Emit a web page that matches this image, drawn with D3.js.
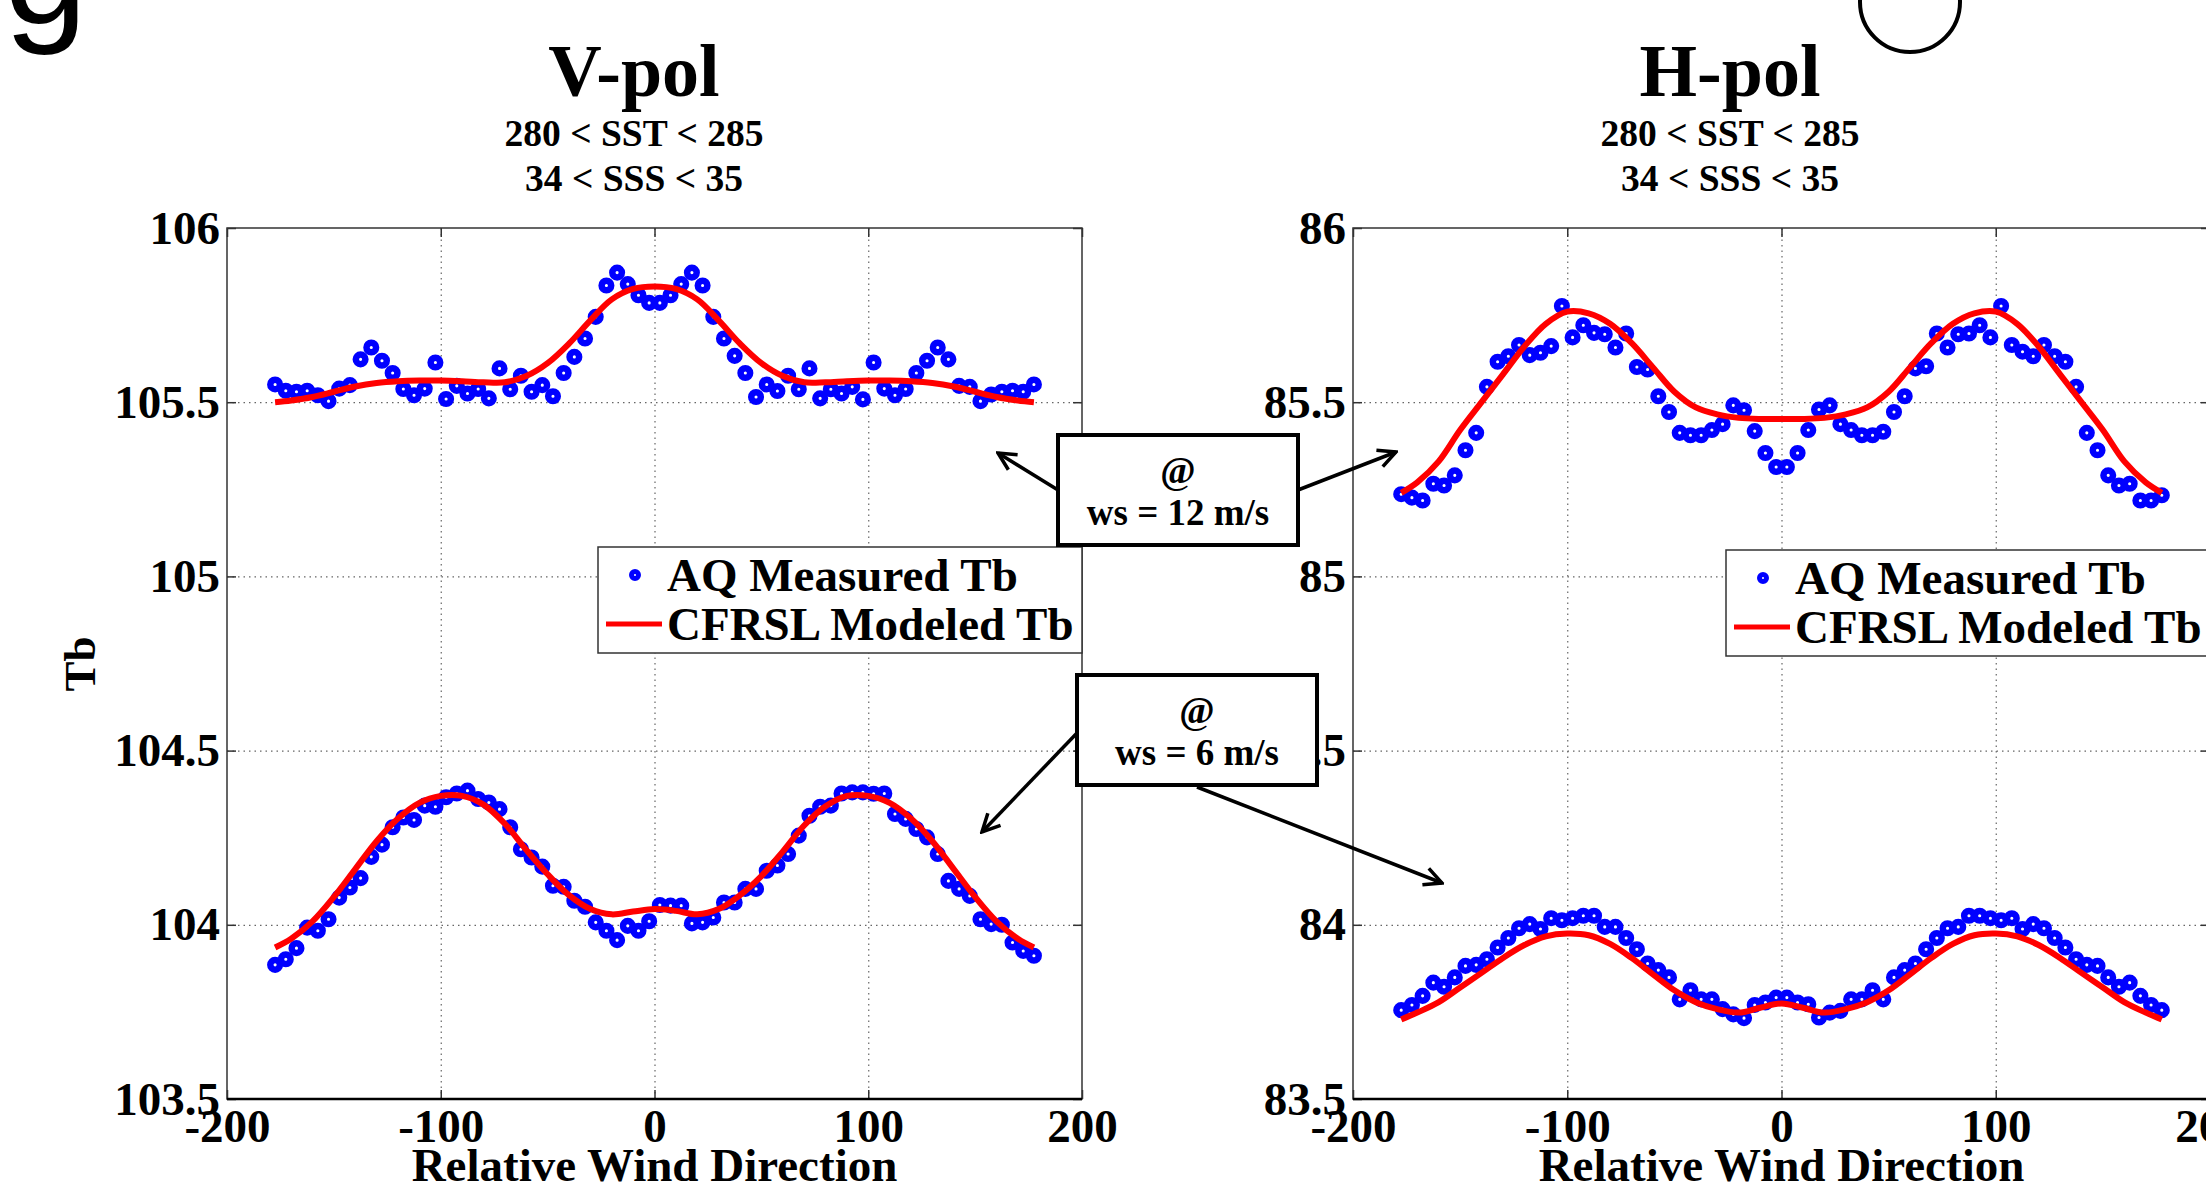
<!DOCTYPE html>
<html>
<head>
<meta charset="utf-8">
<script src="https://cdn.jsdelivr.net/npm/d3@7"></script>
<style>
  body { margin: 0; background: #fff; }
  svg { display: block; }
</style>
</head>
<body>
<svg id="fig" width="2206" height="1191"></svg>
<script>
// Tb vs relative wind direction, 280 < SST < 285, 34 < SSS < 35

let directions = [
  -177.5, -172.5, -167.5, -162.5, -157.5, -152.5, -147.5, -142.5, -137.5, -132.5,
  -127.5, -122.5, -117.5, -112.5, -107.5, -102.5, -97.5, -92.5, -87.5, -82.5,
  -77.5, -72.5, -67.5, -62.5, -57.5, -52.5, -47.5, -42.5, -37.5, -32.5,
  -27.5, -22.5, -17.5, -12.5, -7.5, -2.5, 2.5, 7.5, 12.5, 17.5,
  22.5, 27.5, 32.5, 37.5, 42.5, 47.5, 52.5, 57.5, 62.5, 67.5,
  72.5, 77.5, 82.5, 87.5, 92.5, 97.5, 102.5, 107.5, 112.5, 117.5,
  122.5, 127.5, 132.5, 137.5, 142.5, 147.5, 152.5, 157.5, 162.5, 167.5,
  172.5, 177.5
]

let modelDirections = [
  -177.5, -170, -160, -150, -140, -130, -120, -110, -100, -90, -80, -70, -60,
  -50, -40, -30, -20, -10, 0, 10, 20, 30, 40, 50, 60, 70, 80, 90, 100, 110,
  120, 130, 140, 150, 160, 170, 177.5
]

// V-pol, ws = 12 m/s
let vpol12Measured = [
  105.551, 105.533, 105.530, 105.533, 105.520, 105.503, 105.539, 105.549, 105.623, 105.657,
  105.619, 105.584, 105.538, 105.520, 105.539, 105.614, 105.509, 105.547, 105.525, 105.538,
  105.511, 105.597, 105.537, 105.576, 105.530, 105.549, 105.517, 105.584, 105.630, 105.683,
  105.745, 105.835, 105.872, 105.839, 105.807, 105.785, 105.785, 105.807, 105.839, 105.872,
  105.835, 105.745, 105.683, 105.633, 105.584, 105.515, 105.551, 105.532, 105.576, 105.537,
  105.597, 105.511, 105.537, 105.525, 105.544, 105.508, 105.614, 105.539, 105.520, 105.538,
  105.584, 105.619, 105.657, 105.623, 105.547, 105.544, 105.503, 105.522, 105.530, 105.533,
  105.530, 105.551
]
let vpol12Model = [
  105.500, 105.505, 105.515, 105.530, 105.545, 105.555, 105.560, 105.562, 105.562, 105.560,
  105.557, 105.557, 105.575, 105.612, 105.668, 105.735, 105.795, 105.825, 105.832, 105.825,
  105.795, 105.735, 105.668, 105.612, 105.575, 105.557, 105.557, 105.560, 105.562, 105.562,
  105.560, 105.555, 105.545, 105.530, 105.515, 105.505, 105.500
]

// V-pol, ws = 6 m/s
let vpol6Measured = [
  103.885, 103.901, 103.933, 103.992, 103.983, 104.016, 104.078, 104.107, 104.134, 104.195,
  104.230, 104.280, 104.308, 104.301, 104.342, 104.339, 104.366, 104.377, 104.385, 104.361,
  104.351, 104.332, 104.280, 104.217, 104.193, 104.167, 104.112, 104.109, 104.069, 104.052,
  104.007, 103.983, 103.956, 103.997, 103.983, 104.010, 104.057, 104.055, 104.055, 104.004,
  104.007, 104.021, 104.064, 104.064, 104.103, 104.103, 104.155, 104.170, 104.203, 104.256,
  104.313, 104.339, 104.342, 104.377, 104.380, 104.380, 104.376, 104.377, 104.318, 104.304,
  104.275, 104.251, 104.203, 104.126, 104.103, 104.083, 104.016, 104.002, 104.000, 103.949,
  103.925, 103.911
]
let vpol6Model = [
  103.935, 103.960, 104.010, 104.080, 104.160, 104.240, 104.305, 104.350, 104.370, 104.370,
  104.345, 104.290, 104.215, 104.145, 104.085, 104.045, 104.030, 104.038, 104.045, 104.040,
  104.030, 104.045, 104.085, 104.140, 104.210, 104.285, 104.340, 104.370, 104.370, 104.350,
  104.305, 104.240, 104.160, 104.080, 104.010, 103.960, 103.935
]

// H-pol, ws = 12 m/s
let hpol12Measured = [
  85.236, 85.226, 85.218, 85.266, 85.261, 85.290, 85.362, 85.412, 85.544, 85.616,
  85.632, 85.664, 85.635, 85.642, 85.661, 85.776, 85.686, 85.721, 85.699, 85.695,
  85.657, 85.697, 85.601, 85.594, 85.517, 85.472, 85.412, 85.405, 85.405, 85.420,
  85.437, 85.491, 85.477, 85.417, 85.354, 85.314, 85.314, 85.354, 85.420, 85.479,
  85.491, 85.437, 85.420, 85.405, 85.405, 85.415, 85.472, 85.517, 85.597, 85.603,
  85.697, 85.657, 85.695, 85.697, 85.721, 85.686, 85.776, 85.664, 85.645, 85.632,
  85.664, 85.632, 85.616, 85.544, 85.412, 85.362, 85.290, 85.261, 85.266, 85.218,
  85.218, 85.233
]
let hpol12Model = [
  85.240, 85.270, 85.330, 85.420, 85.500, 85.580, 85.660, 85.725, 85.760, 85.755,
  85.725, 85.670, 85.600, 85.530, 85.485, 85.465, 85.455, 85.452, 85.452, 85.452,
  85.455, 85.465, 85.485, 85.530, 85.600, 85.670, 85.725, 85.755, 85.760, 85.725,
  85.660, 85.580, 85.500, 85.420, 85.330, 85.270, 85.240
]

// H-pol, ws = 6 m/s
let hpol6Measured = [
  83.755, 83.770, 83.796, 83.834, 83.822, 83.849, 83.882, 83.885, 83.901, 83.935,
  83.962, 83.990, 84.002, 83.988, 84.019, 84.013, 84.019, 84.026, 84.026, 83.994,
  83.994, 83.962, 83.930, 83.889, 83.870, 83.849, 83.786, 83.812, 83.786, 83.786,
  83.758, 83.743, 83.732, 83.770, 83.777, 83.791, 83.791, 83.777, 83.772, 83.734,
  83.748, 83.753, 83.786, 83.786, 83.812, 83.786, 83.849, 83.870, 83.889, 83.930,
  83.962, 83.990, 83.994, 84.026, 84.026, 84.019, 84.013, 84.019, 83.988, 84.002,
  83.990, 83.962, 83.935, 83.901, 83.885, 83.882, 83.849, 83.822, 83.834, 83.796,
  83.770, 83.755
]
let hpol6Model = [
  83.728, 83.748, 83.778, 83.820, 83.862, 83.905, 83.942, 83.967, 83.975, 83.970,
  83.945, 83.905, 83.858, 83.812, 83.778, 83.758, 83.748, 83.762, 83.774, 83.762,
  83.748, 83.758, 83.778, 83.812, 83.858, 83.905, 83.945, 83.970, 83.975, 83.967,
  83.942, 83.905, 83.862, 83.820, 83.778, 83.748, 83.728
]

let xTicks = [-200, -100, 0, 100, 200]
let vpolTicks = [103.5, 104, 104.5, 105, 105.5, 106]
let hpolTicks = [83.5, 84, 84.5, 85, 85.5, 86]
let legendLabels = ['AQ Measured Tb', 'CFRSL Modeled Tb']
let conditions = ['280 < SST < 285', '34 < SSS < 35']
let xLabel = 'Relative Wind Direction'
let yLabel = 'Tb'

const serif = "'Liberation Serif', 'Times New Roman', serif"
const plotTop = 228, plotBottom = 1099

let svg = d3.select('#fig')
  .attr('font-family', serif)
  .attr('font-weight', 'bold')

svg.append('rect')
  .attr('width', 2206)
  .attr('height', 1191)
  .attr('fill', 'white')

function drawPanel(p) {
  let x = d3.scaleLinear().domain([-200, 200]).range([p.left, p.right])
  let y = d3.scaleLinear().domain(d3.extent(p.yTicks)).range([plotBottom, plotTop])
  let g = svg.append('g').attr('id', p.id)

  // dotted grid
  g.append('g')
    .attr('class', 'grid')
    .attr('transform', `translate(0, ${plotBottom})`)
    .call(d3.axisBottom(x).tickValues(xTicks.slice(1, -1)).tickSize(-(plotBottom - plotTop)).tickFormat(''))
    .call(a => a.select('.domain').remove())
  g.append('g')
    .attr('class', 'grid')
    .attr('transform', `translate(${p.left}, 0)`)
    .call(d3.axisLeft(y).tickValues(p.yTicks.slice(1, -1)).tickSize(-(p.right - p.left)).tickFormat(''))
    .call(a => a.select('.domain').remove())
  g.selectAll('.grid .tick line')
    .attr('stroke', '#666')
    .attr('stroke-width', 1.2)
    .attr('stroke-dasharray', '1.5,4')

  g.append('rect')
    .attr('x', p.left)
    .attr('y', plotTop)
    .attr('width', p.right - p.left)
    .attr('height', plotBottom - plotTop)
    .attr('fill', 'none')
    .attr('stroke', '#333')
    .attr('stroke-width', 1.5)

  let axes = g.append('g').attr('class', 'axes')
  axes.append('g')
    .attr('transform', `translate(0, ${plotBottom})`)
    .call(d3.axisBottom(x).tickValues(xTicks).tickSize(-9).tickSizeOuter(0).tickPadding(10).tickFormat(d => String(d)))
  axes.append('g')
    .attr('transform', `translate(${p.left}, 0)`)
    .call(d3.axisLeft(y).tickValues(p.yTicks).tickSize(-9).tickSizeOuter(0).tickPadding(7).tickFormat(d => String(d)))
  axes.append('g')
    .attr('transform', `translate(0, ${plotTop})`)
    .call(d3.axisTop(x).tickValues(xTicks).tickSize(-9).tickSizeOuter(0).tickFormat(''))
  axes.append('g')
    .attr('transform', `translate(${p.right}, 0)`)
    .call(d3.axisRight(y).tickValues(p.yTicks).tickSize(-9).tickSizeOuter(0).tickFormat(''))
  axes.selectAll('g')
    .attr('font-family', serif)
    .attr('font-size', 47)
    .attr('font-weight', 'bold')
  axes.selectAll('.domain').remove()
  axes.selectAll('.tick line').attr('stroke', '#333').attr('stroke-width', 1.5)
  axes.selectAll('.tick text').attr('fill', 'black')

  g.append('line')
    .attr('x1', p.left)
    .attr('x2', p.right)
    .attr('y1', plotBottom)
    .attr('y2', plotBottom)
    .attr('stroke', 'black')
    .attr('stroke-width', 2.5)

  // measured points
  p.series.forEach(s => {
    g.append('g')
      .selectAll('circle')
      .data(d3.zip(directions, s.measured))
      .join('circle')
      .attr('cx', d => x(d[0]))
      .attr('cy', d => y(d[1]))
      .attr('r', 4.8)
      .attr('fill', 'white')
      .attr('stroke', '#0000ff')
      .attr('stroke-width', 6.5)
  })

  // modelled curves
  let line = d3.line()
    .x(d => x(d[0]))
    .y(d => y(d[1]))
    .curve(d3.curveCatmullRom)
  p.series.forEach(s => {
    g.append('path')
      .datum(d3.zip(modelDirections, s.model))
      .attr('d', line)
      .attr('fill', 'none')
      .attr('stroke', '#ff0000')
      .attr('stroke-width', 6)
      .attr('stroke-linejoin', 'round')
  })

  // titles
  g.append('text')
    .attr('x', p.titleX)
    .attr('y', 96)
    .attr('text-anchor', 'middle')
    .attr('font-size', 74)
    .text(p.title)
  g.selectAll('.cond')
    .data(conditions)
    .join('text')
    .attr('class', 'cond')
    .attr('x', p.titleX)
    .attr('y', (d, i) => 146 + i * 45)
    .attr('text-anchor', 'middle')
    .attr('font-size', 37.5)
    .text(d => d)

  g.append('text')
    .attr('x', (p.left + p.right) / 2)
    .attr('y', 1181)
    .attr('text-anchor', 'middle')
    .attr('font-size', 47)
    .text(xLabel)

  // legend
  let lg = g.append('g').attr('transform', `translate(${p.legendX}, ${p.legendY})`)
  lg.append('rect')
    .attr('width', 484)
    .attr('height', 106)
    .attr('fill', 'white')
    .attr('stroke', '#333')
    .attr('stroke-width', 1.5)
  lg.append('circle')
    .attr('cx', 37)
    .attr('cy', 28)
    .attr('r', 3.5)
    .attr('fill', 'white')
    .attr('stroke', '#0000ff')
    .attr('stroke-width', 5)
  lg.append('line')
    .attr('x1', 8)
    .attr('x2', 64)
    .attr('y1', 77)
    .attr('y2', 77)
    .attr('stroke', '#ff0000')
    .attr('stroke-width', 5)
  lg.selectAll('.lab')
    .data(legendLabels)
    .join('text')
    .attr('class', 'lab')
    .attr('x', 69)
    .attr('y', (d, i) => 44 + i * 49)
    .attr('font-size', 47)
    .text(d => d)
}

drawPanel({
  id: 'vpol', left: 227, right: 1082, yTicks: vpolTicks,
  title: 'V-pol', titleX: 634, legendX: 598, legendY: 547,
  series: [
    { measured: vpol12Measured, model: vpol12Model },
    { measured: vpol6Measured, model: vpol6Model }
  ]
})

drawPanel({
  id: 'hpol', left: 1353, right: 2210, yTicks: hpolTicks,
  title: 'H-pol', titleX: 1730, legendX: 1726, legendY: 550,
  series: [
    { measured: hpol12Measured, model: hpol12Model },
    { measured: hpol6Measured, model: hpol6Model }
  ]
})

svg.append('text')
  .attr('transform', 'translate(95, 664) rotate(-90)')
  .attr('text-anchor', 'middle')
  .attr('font-size', 45)
  .text(yLabel)

// callouts
svg.append('defs')
  .append('marker')
  .attr('id', 'head')
  .attr('viewBox', '0 0 10 10')
  .attr('refX', 9)
  .attr('refY', 5)
  .attr('markerWidth', 22)
  .attr('markerHeight', 22)
  .attr('markerUnits', 'userSpaceOnUse')
  .attr('orient', 'auto')
  .append('path')
  .attr('d', 'M1,1 L9,5 L1,9')
  .attr('fill', 'none')
  .attr('stroke', 'black')
  .attr('stroke-width', 1.6)

let arrows = [
  [1058, 490, 998, 453],
  [1298, 490, 1396, 452],
  [1077, 733, 982, 832],
  [1197, 787, 1442, 883]
]
svg.append('g')
  .selectAll('line')
  .data(arrows)
  .join('line')
  .attr('x1', d => d[0])
  .attr('y1', d => d[1])
  .attr('x2', d => d[2])
  .attr('y2', d => d[3])
  .attr('stroke', 'black')
  .attr('stroke-width', 3.5)
  .attr('marker-end', 'url(#head)')

let boxes = [
  { x: 1058, y: 435, label: 'ws = 12 m/s' },
  { x: 1077, y: 675, label: 'ws = 6 m/s' }
]
let box = svg.append('g')
  .selectAll('g')
  .data(boxes)
  .join('g')
  .attr('transform', d => `translate(${d.x}, ${d.y})`)
box.append('rect')
  .attr('width', 240)
  .attr('height', 110)
  .attr('fill', 'white')
  .attr('stroke', 'black')
  .attr('stroke-width', 4)
box.append('text')
  .attr('x', 120)
  .attr('y', 48)
  .attr('text-anchor', 'middle')
  .attr('font-size', 38)
  .text('@')
box.append('text')
  .attr('x', 120)
  .attr('y', 90)
  .attr('text-anchor', 'middle')
  .attr('font-size', 37)
  .text(d => d.label)

// cut-off slide heading above the plots
svg.append('text')
  .attr('x', 4)
  .attr('y', 24)
  .attr('font-family', "'Liberation Sans', Arial, sans-serif")
  .attr('font-weight', 'normal')
  .attr('font-size', 150)
  .text('g')
svg.append('ellipse')
  .attr('cx', 1910)
  .attr('cy', 2)
  .attr('rx', 50)
  .attr('ry', 50)
  .attr('fill', 'none')
  .attr('stroke', 'black')
  .attr('stroke-width', 4)
</script>
</body>
</html>
